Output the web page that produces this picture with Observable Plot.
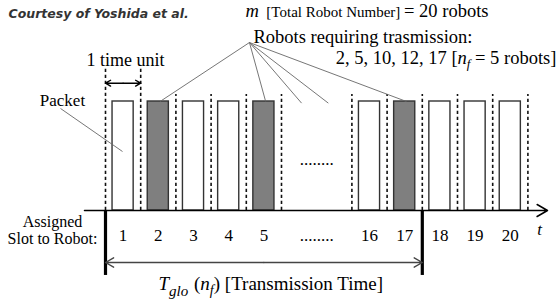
<!DOCTYPE html>
<html><head><meta charset="utf-8">
<script src="https://cdn.jsdelivr.net/npm/d3@7"></script>
<script src="https://cdn.jsdelivr.net/npm/@observablehq/plot@0.6"></script>
<style>html,body{margin:0;padding:0;background:#fff;} svg{display:block}</style>
</head><body><div id="chart"></div>
<script>
// ---- data ----
const totalRobots = 20;
const shownSlots = [1, 2, 3, 4, 5, 16, 17, 18, 19, 20];
const slotLabels = ["1", "2", "3", "4", "5", "16", "17", "18", "19", "20"];
const transmitting = [2, 5, 10, 12, 17];
const nf = transmitting.length;

// ---- layout helpers (time units) ----
const SERIF = '"Liberation Serif","Times New Roman",serif';
const pos = n => (n <= 5 ? n - 1 : n - 9);          // left edge of a robot's slot
const hiddenPos = n => 5 + (n - 8.5) * 0.38;          // robots inside the "......" gap
const boundaries = Array.from(new Set([...shownSlots.map(pos), ...shownSlots.map(n => pos(n) + 1)])).sort((a, b) => a - b);
const tEnd = pos(Math.max(...transmitting)) + 1;
const apex = {x: 4.09, y: 1.541};
const fanEnds = transmitting.map(n => shownSlots.includes(n)
  ? {x1: apex.x, y1: apex.y, x2: pos(n) + 0.55, y2: 1}
  : {x1: apex.x, y1: apex.y, x2: hiddenPos(n), y2: 0.985});

const one = [0];
const txt = (s, o) => Plot.text([s], {text: d => d, fontFamily: SERIF, fill: "#000", ...o});

const chart = Plot.plot({
  width: 558, height: 306, margin: 0,
  x: {domain: [-105 / 35.2, 453 / 35.2], axis: null},
  y: {domain: [-96 / 109, 210 / 109], axis: null},
  style: {background: "#fff", fontFamily: SERIF, overflow: "visible"},
  marks: [
    Plot.ruleX(boundaries, {x: d => d, y1: 0, y2: d => (d <= 1 ? 1.303 : 1.064), stroke: "#111", strokeWidth: 1.6, strokeDasharray: "3.2,2.8"}),
    Plot.rect(shownSlots.filter(n => !transmitting.includes(n)), {x1: n => pos(n) + 0.2, x2: n => pos(n) + 0.8, y1: 0, y2: 1, fill: "#fff", stroke: "#333", strokeWidth: 1.4}),
    Plot.rect(shownSlots.filter(n => transmitting.includes(n)), {x1: n => pos(n) + 0.2, x2: n => pos(n) + 0.8, y1: 0, y2: 1, fill: "#7f7f7f", stroke: "#333", strokeWidth: 1.4}),
    Plot.arrow(one, {x1: -0.597, y1: 0, x2: 12.557, y2: 0, stroke: "#000", strokeWidth: 1.5, headLength: 12}),
    Plot.ruleX([0, tEnd], {x: d => d, y1: 0, y2: -0.596, stroke: "#000", strokeWidth: 3.2}),
    // transmission time double arrow
    Plot.arrow([0, tEnd], {x1: tEnd / 2, y1: -0.477, x2: d => d, y2: -0.477, stroke: "#444", strokeWidth: 1.4, headLength: 10}),
    // 1 time unit double arrow
    Plot.arrow([0, 1], {x1: 0.5, y1: 1.168, x2: d => d, y2: 1.168, stroke: "#000", strokeWidth: 1.4, headLength: 8}),
    // pointer lines
    Plot.link(fanEnds, {x1: "x1", y1: "y1", x2: "x2", y2: "y2", stroke: "#666", strokeWidth: 0.9}),
    Plot.link(one, {x1: -1.278, y1: 0.936, x2: 0.483, y2: 0.541, stroke: "#666", strokeWidth: 0.9}),
    // slot labels
    Plot.text(shownSlots, {x: n => pos(n) + 0.5, y: -0.232, text: (n, i) => slotLabels[i], fontSize: 17, fontFamily: SERIF, fill: "#000"}),
    txt("........", {x: 6, y: -0.232, fontSize: 17}),
    txt("........", {x: 6, y: 0.468, fontSize: 17}),
    txt("t", {x: 12.33, y: -0.171, fontSize: 17, fontStyle: "italic"}),
    txt("Assigned\nSlot to Robot:", {x: -1.506, y: -0.183, fontSize: 16, lineHeight: 1.05}),
    txt("T glo (n f) [Transmission Time]", {x: 1.506, y: -0.675, fontSize: 19, textAnchor: "start"}),
    txt("Packet", {x: -1.222, y: 1.013, fontSize: 17}),
    txt("1 time unit", {x: 0.57, y: 1.38, fontSize: 18}),
    txt("Robots requiring trasmission:", {x: 4.205, y: 1.592, fontSize: 18.5, textAnchor: "start"}),
    txt("2, 5, 10, 12, 17 [n f = 5 robots]", {x: 12.81, y: 1.399, fontSize: 18.5, textAnchor: "end"}),
    txt("m [Total Robot Number] = 20 robots", {x: 3.977, y: 1.83, fontSize: 18.5, textAnchor: "start"}),
    Plot.text(["Courtesy of Yoshida et al."], {x: -2.756, y: 1.807, text: d => d, textAnchor: "start", fontFamily: "DejaVu Sans", fontWeight: "bold", fontStyle: "italic", fontSize: 12.5, fill: "#333"})
  ]
});

function rich(svg, key, parts) {
  d3.select(svg).selectAll("text").filter(function () { return this.textContent === key; }).each(function () {
    const t = d3.select(this);
    t.text(null);
    let shift = 0;
    for (const p of parts) {
      const s = t.append("tspan").text(p.t);
      if (p.italic) s.attr("font-style", "italic");
      if (p.size) s.attr("font-size", p.size);
      const target = p.sub || 0;
      if (target !== shift) { s.attr("dy", target - shift); shift = target; }
      if (p.dx) s.attr("dx", p.dx);
    }
  });
}
rich(chart, "T glo (n f) [Transmission Time]", [
  {t: "T", italic: true},
  {t: "glo", italic: true, size: 15, sub: 6},
  {t: "\u00a0(", dx: 1},
  {t: "n", italic: true},
  {t: "f", italic: true, size: 14, sub: 5},
  {t: ")"},
  {t: "\u00a0[Transmission Time]"}
]);
rich(chart, "2, 5, 10, 12, 17 [n f = 5 robots]", [
  {t: "2, 5, 10, 12, 17 ["},
  {t: "n", italic: true},
  {t: "f", italic: true, size: 13, sub: 4},
  {t: "\u00a0= 5 robots]"}
]);
rich(chart, "m [Total Robot Number] = 20 robots", [
  {t: "m", italic: true},
  {t: "\u00a0\u00a0[Total Robot Number]\u00a0", size: 15},
  {t: "= 20 robots"}
]);

document.getElementById("chart").appendChild(chart);
</script>
</body></html>
